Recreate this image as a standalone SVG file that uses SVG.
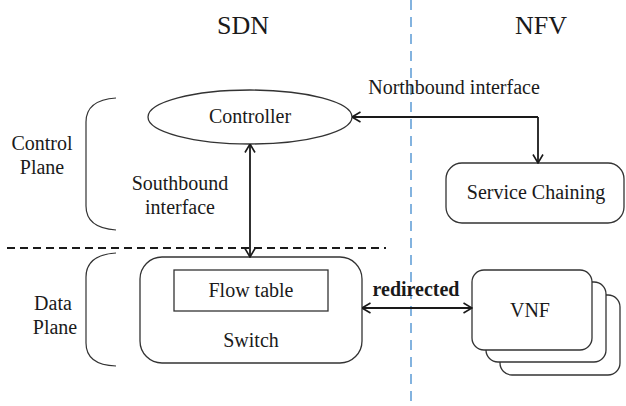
<svg xmlns="http://www.w3.org/2000/svg" width="626" height="406" viewBox="0 0 626 406">
<defs>
<style>
text{font-family:'Liberation Serif','Times New Roman',Times,serif;fill:#1a1a1a;text-anchor:middle}
.t{font-size:20px}
.h{font-size:26px}
.box{fill:#fff;stroke:#333;stroke-width:1.3}
.br{fill:none;stroke:#333;stroke-width:1.2}
.c{fill:none;stroke:#1a1a1a;stroke-width:1.8}
</style>
<marker id="ah" viewBox="0 0 10 12" refX="9.5" refY="6" markerWidth="10" markerHeight="12" markerUnits="userSpaceOnUse" orient="auto-start-reverse">
<path d="M1,1 L9.5,6 L1,11" fill="none" stroke="#1a1a1a" stroke-width="1.6"/>
</marker>
</defs>
<rect width="626" height="406" fill="#fff"/>
<line x1="411" y1="0" x2="411" y2="406" stroke="#5B9BD5" stroke-width="1.5" stroke-dasharray="10,7"/>
<line x1="7" y1="248" x2="386" y2="248" stroke="#1a1a1a" stroke-width="1.8" stroke-dasharray="8,5"/>
<text class="h" x="243" y="34">SDN</text>
<text class="h" x="541" y="34">NFV</text>
<g id="control-plane">
<path class="br" d="M116,98 Q86,100 86,122 L86,206 Q86,228 116,230"/>
<text class="t" x="42" y="150">Control</text>
<text class="t" x="42" y="174">Plane</text>
</g>
<g id="data-plane">
<path class="br" d="M116,253 Q86,255 86,277 L86,343 Q86,365 116,366"/>
<text class="t" x="53" y="310">Data</text>
<text class="t" x="55" y="334">Plane</text>
</g>
<g id="controller">
<ellipse class="box" cx="250" cy="117" rx="102" ry="27"/>
<text class="t" x="250" y="123">Controller</text>
</g>
<g id="service-chaining">
<rect class="box" x="446" y="163" width="178" height="60" rx="16"/>
<text class="t" x="536" y="199">Service Chaining</text>
</g>
<g id="switch">
<rect class="box" x="140" y="257" width="222" height="106" rx="22"/>
<rect class="box" x="174" y="270" width="154" height="41"/>
<text class="t" x="251" y="297">Flow table</text>
<text class="t" x="251" y="347">Switch</text>
</g>
<g id="vnf">
<rect class="box" x="500" y="295" width="120" height="80" rx="12"/>
<rect class="box" x="486" y="282" width="120" height="80" rx="12"/>
<rect class="box" x="472" y="270" width="120" height="80" rx="12"/>
<text class="t" x="530" y="317">VNF</text>
</g>
<g id="connectors">
<path class="c" d="M538,117 L538,163" marker-end="url(#ah)"/>
<path class="c" d="M538,117 L352,117" marker-end="url(#ah)"/>
<path class="c" d="M250,144 L250,257" marker-start="url(#ah)" marker-end="url(#ah)"/>
<path class="c" d="M362,308 L472,308" marker-start="url(#ah)" marker-end="url(#ah)"/>
<text class="t" x="454" y="94">Northbound interface</text>
<text class="t" x="180" y="190">Southbound</text>
<text class="t" x="180" y="214">interface</text>
<text class="t" x="416" y="296" font-weight="bold">redirected</text>
</g>
</svg>
